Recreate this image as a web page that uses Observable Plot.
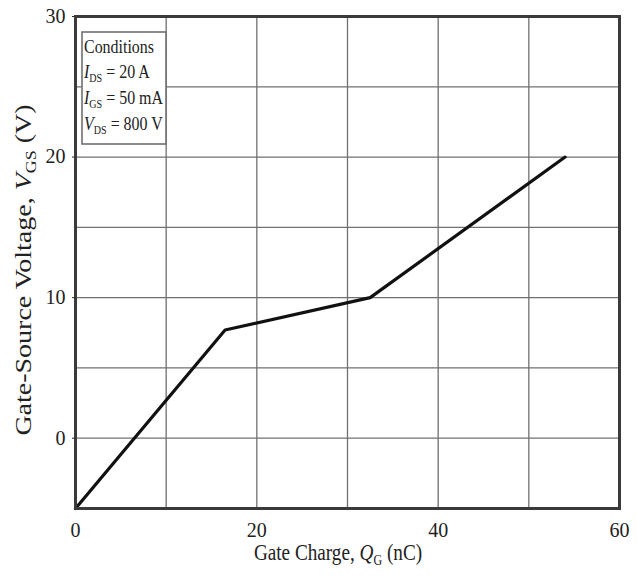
<!DOCTYPE html>
<html>
<head>
<meta charset="utf-8">
<script src="https://cdn.jsdelivr.net/npm/d3@7"></script>
<script src="https://cdn.jsdelivr.net/npm/@observablehq/plot@0.6"></script>
<style>
  body { margin: 0; background: #fff; }
  #chart svg { display: block; }
</style>
</head>
<body>
<div id="chart"></div>
<script>
// Data
const gateCharge = [0, 16.5, 32.5, 54];      // Q_G (nC)
const gateVoltage = [-5, 7.7, 10, 20];       // V_GS (V)
const xTickLabels = [0, 20, 40, 60];
const yTickLabels = [0, 10, 20, 30];
const xGrid = [0, 10, 20, 30, 40, 50, 60];
const yGrid = [-5, 0, 5, 10, 15, 20, 25, 30];
const conditionsTitle = "Conditions";
const conditions = [
  {sym: "I", sub: "DS", rest: " = 20 A"},
  {sym: "I", sub: "GS", rest: " = 50 mA"},
  {sym: "V", sub: "DS", rest: " = 800 V"}
];

const data = gateCharge.map((q, i) => ({q, v: gateVoltage[i]}));
const font = "'Liberation Serif', 'DejaVu Serif', serif";

const plot = Plot.plot({
  width: 638,
  height: 577,
  marginLeft: 75,
  marginRight: 19,
  marginTop: 16,
  marginBottom: 69,
  style: {fontFamily: font, fontSize: "20px", color: "#222", background: "#fff"},
  x: {domain: [0, 60]},
  y: {domain: [-5, 30]},
  marks: [
    Plot.gridX(xGrid, {stroke: "#707070", strokeOpacity: 1, strokeWidth: 1.3}),
    Plot.gridY(yGrid, {stroke: "#707070", strokeOpacity: 1, strokeWidth: 1.3}),
    Plot.axisX({ticks: xTickLabels, tickSize: 0, tickPadding: 14, label: null, fontSize: 20}),
    Plot.axisY({ticks: yTickLabels, tickSize: 3, tickPadding: 7, label: null, fontSize: 20}),
    Plot.line(data, {x: "q", y: "v", stroke: "#111", strokeWidth: 3.2, strokeLinejoin: "round"}),
    Plot.frame({stroke: "#3a3a3a", strokeWidth: 3})
  ]
});

document.getElementById("chart").append(plot);

const svg = d3.select(plot);
const ys = plot.scale("y");

// X axis title (glyphs slightly condensed as in the reference)
const xt = svg.append("text")
  .attr("transform", "translate(338, 560) scale(0.8, 1)")
  .attr("text-anchor", "middle")
  .attr("font-family", font)
  .attr("font-size", 24)
  .attr("fill", "#222");
xt.append("tspan").text("Gate Charge, ");
xt.append("tspan").attr("font-style", "italic").text("Q");
xt.append("tspan").attr("font-size", 15).attr("dy", 5).text("G");
xt.append("tspan").attr("dy", -5).text(" (nC)");

// Y axis title
const yt = svg.append("text")
  .attr("transform", `translate(31, ${(ys.apply(-5) + ys.apply(30)) / 2 + 8}) rotate(-90) scale(1, 0.85)`)
  .attr("text-anchor", "middle")
  .attr("font-family", font)
  .attr("font-size", 28)
  .attr("fill", "#222");
yt.append("tspan").text("Gate-Source Voltage, ");
yt.append("tspan").attr("font-style", "italic").text("V");
yt.append("tspan").attr("font-size", 18).attr("dy", 6).text("GS");
yt.append("tspan").attr("dy", -6).text(" (V)");

// Conditions box
const bx = 82, by = 32, bw = 84, bh = 112;
svg.append("rect")
  .attr("x", bx).attr("y", by).attr("width", bw).attr("height", bh)
  .attr("fill", "#fff").attr("stroke", "#707070").attr("stroke-width", 1.6);
const lines = svg.append("g")
  .attr("font-family", font).attr("font-size", 19).attr("fill", "#222")
  .attr("text-anchor", "start");
lines.append("text")
  .attr("transform", `translate(${bx + 2}, ${by + 21}) scale(0.84, 1)`)
  .text(conditionsTitle);
conditions.forEach((c, i) => {
  const t = lines.append("text")
    .attr("transform", `translate(${bx + 2}, ${by + 46 + i * 26}) scale(0.84, 1)`);
  t.append("tspan").attr("font-style", "italic").text(c.sym);
  t.append("tspan").attr("font-size", 12).attr("dy", 4).text(c.sub);
  t.append("tspan").attr("dy", -4).text(c.rest);
});
</script>
</body>
</html>
